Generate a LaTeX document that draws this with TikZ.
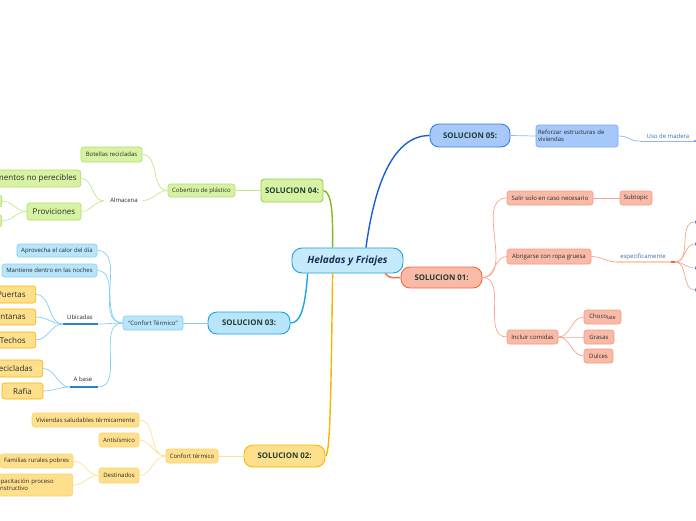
\documentclass[tikz,border=0pt]{standalone}
\usepackage{fontspec}
\setmainfont{Open Sans}
\definecolor{txt}{HTML}{2A2A2A}
\definecolor{soltxt}{HTML}{1F3D2F}
\definecolor{ctxt}{HTML}{1A2E5A}
\definecolor{cfill}{HTML}{C5EAFC}
\definecolor{cdraw}{HTML}{1EA0E6}
% blue (05)
\definecolor{bMain}{HTML}{1A5FD0}
\definecolor{bFill}{HTML}{A6C8FA}
\definecolor{bDraw}{HTML}{3D7EE0}
\definecolor{bSub}{HTML}{8DB8F5}
\definecolor{bSubDraw}{HTML}{7AAAF5}
% orange (01)
\definecolor{oMain}{HTML}{F26A3E}
\definecolor{oFill}{HTML}{F9BBA8}
\definecolor{oDraw}{HTML}{F06A45}
\definecolor{oSub}{HTML}{F7A58A}
\definecolor{oSubDraw}{HTML}{F49B7F}
\definecolor{oLine}{HTML}{FDD2A8}
% green (04)
\definecolor{gMain}{HTML}{7FBA1E}
\definecolor{gFill}{HTML}{D8F2A4}
\definecolor{gDraw}{HTML}{9ACD45}
\definecolor{gSub}{HTML}{C5E78A}
\definecolor{gSubDraw}{HTML}{AEDC66}
% sky (03)
\definecolor{sMain}{HTML}{1EA3E8}
\definecolor{sFill}{HTML}{B9E5FB}
\definecolor{sDraw}{HTML}{1BA1E2}
\definecolor{sSub}{HTML}{80D0F5}
\definecolor{sSubDraw}{HTML}{85CFF0}
\definecolor{ulBlue}{HTML}{2A85C8}
% yellow (02)
\definecolor{yMain}{HTML}{F7B500}
\definecolor{yFill}{HTML}{FEDF8C}
\definecolor{yDraw}{HTML}{F7B500}
\definecolor{ySub}{HTML}{FDE19A}
\definecolor{ySubDraw}{HTML}{FDD16E}
\definecolor{lbl}{HTML}{3A6EA8}
\begin{document}
\begin{tikzpicture}[x=1pt,y=-1pt,
  sm/.style={font=\fontsize{6}{7.2}\selectfont, text=txt},
  big/.style={font=\fontsize{8}{9}\selectfont, text=txt},
  box/.style={draw, rounded corners=2.5pt, line width=0.6pt, inner sep=1.5pt},
  sol/.style={draw, line width=0.9pt, inner sep=2pt, text=soltxt, font=\fontsize{7.8}{9}\selectfont\bfseries},
  pill/.style={rounded corners=9pt},
  me/.style={line width=1.4pt},
  se/.style={line width=0.7pt},
  dot/.style={circle, fill=bDraw, inner sep=0pt, minimum size=6pt},
]
\useasboundingbox (0,0) rectangle (696,520);

% ---------- central ----------
\node[draw=cdraw, fill=cfill, line width=0.9pt, rounded corners=10pt, minimum width=111pt, minimum height=25pt,
      font=\fontsize{10}{12}\selectfont\itshape\bfseries, text=ctxt] (c) at (347.5,260.5) {Heladas y Friajes};

% ---------- SOLUCION 05 ----------
\node[sol, pill, draw=bDraw, fill=bFill, minimum width=80pt, minimum height=23pt] (s5) at (470,135.5) {SOLUCION 05:};
\node[box, sm, draw=bSubDraw, fill=bFill, minimum width=82pt, minimum height=22pt, text width=78pt, align=left] (ref) at (577,136) {Reforzar estructuras de\\viviendas};
\coordinate (umL) at (640,141);
\coordinate (umR) at (695,141);
\node[sm, text=lbl] (um) at (668,136.5) {Uso de madera};
\draw[me, bMain] (c.35) .. controls (375,180) and (395,135.5) .. (s5.west);
\draw[se, bSub] (s5.east) -- (ref.west);
\draw[se, bSub] (ref.east) .. controls (630,136) and (628,141) .. (umL);
\draw[line width=0.9pt, bSub] (umL) -- (umR);
\node[circle, fill=bDraw, inner sep=0pt, minimum size=2pt] (umdot) at (695,141) {};

% ---------- SOLUCION 01 ----------
\node[sol, pill, draw=oDraw, fill=oFill, minimum width=81pt, minimum height=21pt] (s1) at (441.5,277.5) {SOLUCION 01:};
\node[box, sm, draw=oSubDraw, fill=oFill, minimum width=86pt, minimum height=14pt] (salir) at (550,198) {Salir solo en caso necesario};
\node[box, sm, draw=oSubDraw, fill=oFill, minimum width=32pt, minimum height=14pt] (subt) at (636,198) {Subtopic};
\node[box, sm, draw=oSubDraw, fill=oFill, minimum width=84pt, minimum height=15pt] (abr) at (549,256.5) {Abrigarse con ropa gruesa};
\node[box, sm, draw=oSubDraw, fill=oFill, minimum width=51pt, minimum height=14pt] (inc) at (532.5,337) {Incluir comidas};
\node[box, sm, draw=oSubDraw, fill=oFill, minimum width=37pt, minimum height=14pt] (choc) at (602.5,317) {Choco\raisebox{-1.3pt}{\fontsize{5}{5.5}\selectfont late}};
\node[box, sm, draw=oSubDraw, fill=oFill, minimum width=30pt, minimum height=14pt] (gras) at (599,337) {Grasas};
\node[box, sm, draw=oSubDraw, fill=oFill, minimum width=29pt, minimum height=14pt] (dulc) at (598.5,356) {Dulces};
\coordinate (esL) at (617,262);
\coordinate (esR) at (675,262);
\node[sm, text=lbl] (esp) at (643,256.5) {especificamente};
\node[dot] (d1) at (698,222) {};
\node[dot] (d2) at (698,244) {};
\node[dot] (d3) at (698,268) {};
\node[dot] (d4) at (698,290) {};
\draw[me, oMain] (c.341) .. controls (390,278) .. (s1.west);
\draw[se, oSub] (s1.east) to[out=0,in=180] (salir.west);
\draw[se, oSub] (s1.east) to[out=0,in=180] (abr.west);
\draw[se, oSub] (s1.east) to[out=0,in=180] (inc.west);
\draw[se, oSub] (salir.east) -- (subt.west);
\draw[se, oSub] (abr.east) to[out=0,in=180] (esL);
\draw[line width=1.3pt, oLine] (esL) -- (esR);
\foreach \d in {d1,d2,d3,d4} \draw[se, oSub] (esR) to[out=0,in=180] (\d.west);
\draw[line width=1.2pt, oMain] ([xshift=-4pt]esR) -- (esR);
\draw[se, oSub] (inc.east) to[out=0,in=180] (choc.west);
\draw[se, oSub] (inc.east) to[out=0,in=180] (gras.west);
\draw[se, oSub] (inc.east) to[out=0,in=180] (dulc.west);

% ---------- SOLUCION 04 ----------
\node[sol, rounded corners=3.5pt, draw=gDraw, fill=gFill, minimum width=62pt, minimum height=23pt] (s4) at (292,190.5) {SOLUCION 04:};
\node[box, sm, draw=gSubDraw, fill=gFill, minimum width=67pt, minimum height=13pt] (cob) at (201.5,190.5) {Cobertizo de plástico};
\node[box, sm, draw=gSubDraw, fill=gFill, minimum width=61pt, minimum height=15pt] (bot) at (111.5,154.5) {Botellas recicladas};
\node[sm] (alm) at (124,200) {Almacena};
\coordinate (almR) at (143,200.5);
\coordinate (almL) at (104,201);
\node[box, big, draw=gSubDraw, fill=gFill, minimum height=17pt, anchor=east, inner xsep=4pt] (alim) at (81,178.5) {Alimentos no perecibles};
\node[box, big, draw=gSubDraw, fill=gFill, minimum width=54pt, minimum height=17pt] (prov) at (54,211.5) {Proviciones};
\node[box, draw=gSubDraw, fill=gFill, minimum width=40pt, minimum height=12pt, anchor=east] (pv1) at (2,201) {};
\node[box, draw=gSubDraw, fill=gFill, minimum width=40pt, minimum height=12pt, anchor=east] (pv2) at (2,221) {};
\draw[me, gMain] (s4.east) .. controls (332,192) and (333,215) .. (c.139);
\draw[se, gSub] (s4.west) -- (cob.east);
\draw[se, gSub] (cob.west) to[out=180,in=0] (bot.east);
\draw[se, gSub] (cob.west) to[out=180,in=0] (almR);
\draw[se, gSub] (almL) to[out=180,in=0] (alim.east);
\draw[se, gSub] (almL) to[out=180,in=0] (prov.east);
\draw[se, gSub] (prov.west) to[out=180,in=0] (pv1.east);
\draw[se, gSub] (prov.west) to[out=180,in=0] (pv2.east);

% ---------- SOLUCION 03 ----------
\node[sol, pill, draw=sDraw, fill=sFill, minimum width=82pt, minimum height=22pt] (s3) at (249,323) {SOLUCION 03:};
\node[box, sm, draw=sSubDraw, fill=sFill, minimum width=60pt, minimum height=14pt] (ct) at (153,323) {“Confort Térmico”};
\node[box, sm, draw=sSubDraw, fill=sFill, minimum width=80pt, minimum height=13pt] (apr) at (57,250.5) {Aprovecha el calor del día};
\node[box, sm, draw=sSubDraw, fill=sFill, minimum width=95pt, minimum height=13pt] (man) at (49.5,270.5) {Mantiene dentro en las noches};
\node[sm] (ubi) at (80,317) {Ubicadas};
\coordinate (ubL) at (63,324);
\coordinate (ubR) at (98,324);
\node[sm] (aba) at (83,379) {A base};
\coordinate (abL) at (70,387);
\coordinate (abR) at (98,387);
\node[box, big, draw=yDraw, fill=yFill, minimum height=17pt, anchor=east, inner xsep=10pt] (pue) at (36,294.5) {Puertas};
\node[box, big, draw=yDraw, fill=yFill, minimum height=16pt, anchor=east, inner xsep=10pt] (ven) at (36,317) {Ventanas};
\node[box, big, draw=yDraw, fill=yFill, minimum height=16pt, anchor=east, inner xsep=10pt] (tec) at (36,340) {Techos};
\node[box, big, draw=yDraw, fill=yFill, minimum height=17pt, anchor=east, inner xsep=10pt] (rec) at (43,368.5) {Recicladas};
\node[box, big, draw=yDraw, fill=yFill, minimum width=41pt, minimum height=16pt] (raf) at (22.5,391) {Rafia};
\draw[me, sMain] (c.198) .. controls (305,310) and (300,323) .. (s3.east);
\draw[se, sSub] (s3.west) -- (ct.east);
\draw[se, sSub] (ct.west) to[out=180,in=0] (apr.east);
\draw[se, sSub] (ct.west) to[out=180,in=0] (man.east);
\draw[se, sSub] (ct.west) to[out=180,in=0] (ubR);
\draw[se, sSub] (ct.west) to[out=180,in=0] (abR);
\draw[line width=1.1pt, ulBlue] (ubL) -- (ubR);
\draw[line width=1.1pt, ulBlue] (abL) -- (abR);
\draw[se, sSub] (ubL) to[out=180,in=0] (pue.east);
\draw[se, sSub] (ubL) to[out=180,in=0] (ven.east);
\draw[se, sSub] (ubL) to[out=180,in=0] (tec.east);
\draw[se, sSub] (abL) to[out=180,in=0] (rec.east);
\draw[se, sSub] (abL) to[out=180,in=0] (raf.east);

% ---------- SOLUCION 02 ----------
\node[sol, pill, draw=yDraw, fill=yFill, minimum width=81pt, minimum height=22pt] (s2) at (284.5,456) {SOLUCION 02:};
\node[box, sm, draw=ySubDraw, fill=yFill, minimum width=52pt, minimum height=14pt] (cter) at (192,456) {Confort térmico};
\node[box, sm, draw=ySubDraw, fill=yFill, minimum width=107pt, minimum height=14pt] (viv) at (85.5,420) {Viviendas saludables térmicamente};
\node[box, sm, draw=ySubDraw, fill=yFill, minimum width=40pt, minimum height=14pt] (ant) at (119,440) {Antisísmico};
\node[box, sm, draw=ySubDraw, fill=yFill, minimum width=40pt, minimum height=15pt] (des) at (119,475.5) {Destinados};
\node[box, sm, draw=ySubDraw, fill=yFill, minimum width=73pt, minimum height=14pt] (fam) at (36.5,461) {Familias rurales pobres};
\node[box, sm, draw=ySubDraw, fill=yFill, minimum width=82pt, minimum height=22pt, anchor=east, align=left, text width=76pt] (cap) at (73,485) {Capacitación proceso\\constructivo};
\draw[me, yMain] (c.221) .. controls (331,400) and (330,455) .. (s2.east);
\draw[se, ySub] (s2.west) -- (cter.east);
\draw[se, ySub] (cter.west) to[out=180,in=0] (viv.east);
\draw[se, ySub] (cter.west) to[out=180,in=0] (ant.east);
\draw[se, ySub] (cter.west) to[out=180,in=0] (des.east);
\draw[se, ySub] (des.west) to[out=180,in=0] (fam.east);
\draw[se, ySub] (des.west) to[out=180,in=0] (cap.east);
\end{tikzpicture}
\end{document}
